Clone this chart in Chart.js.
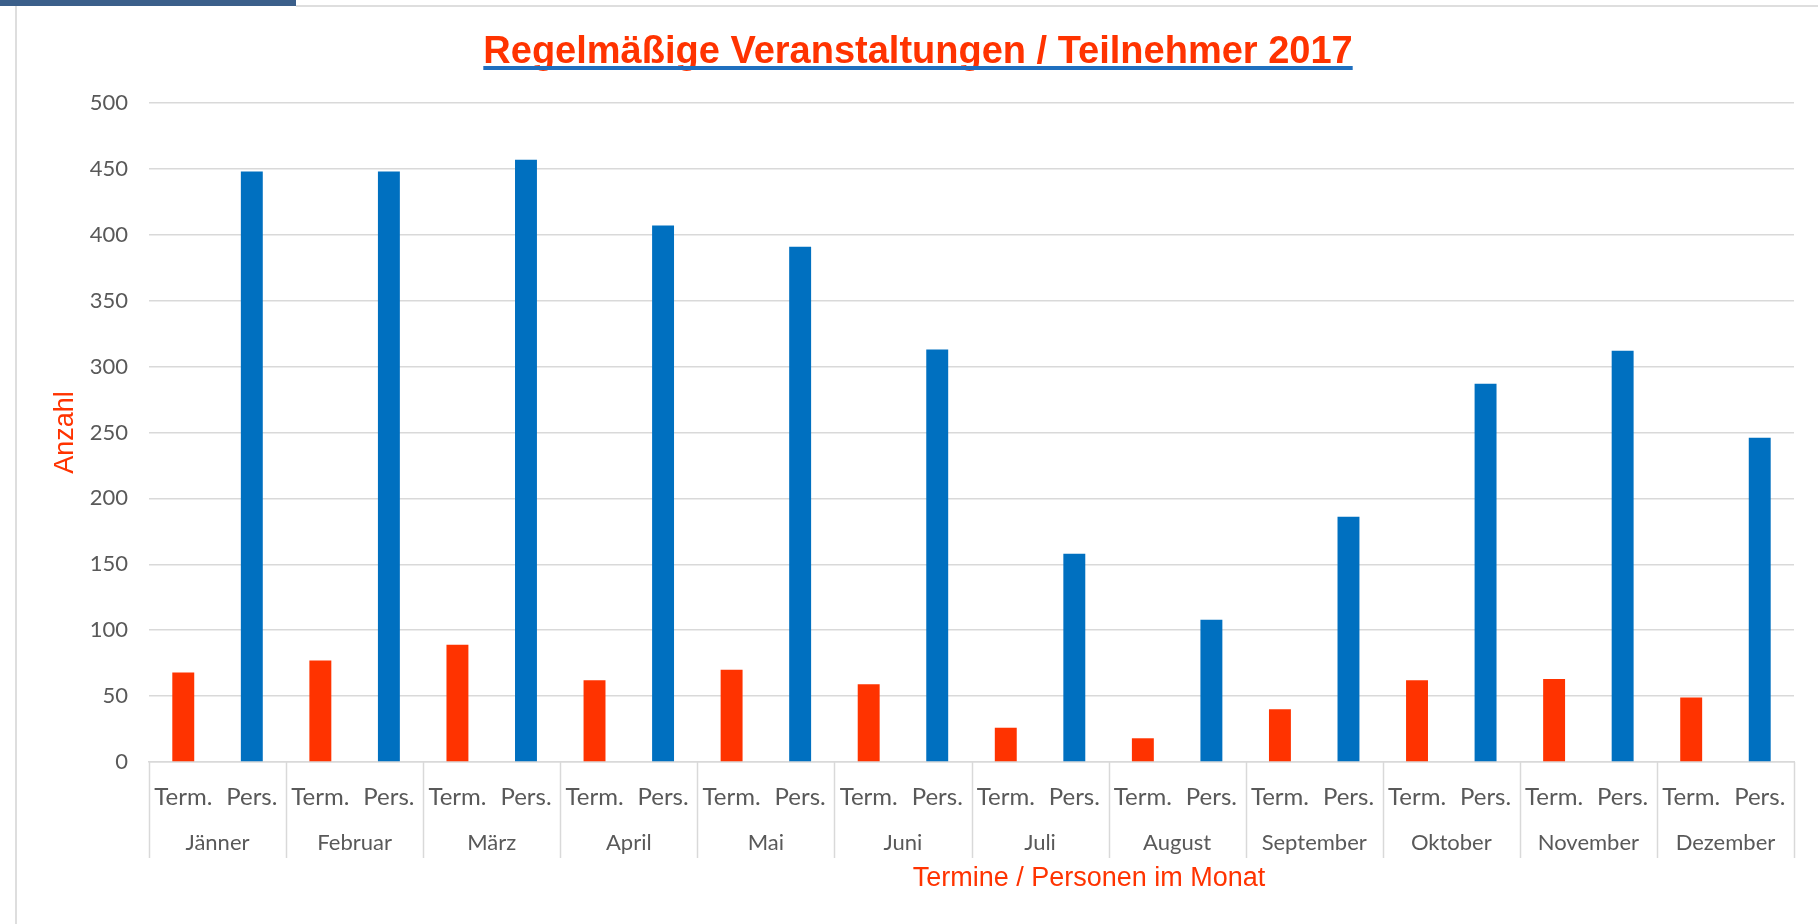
<!DOCTYPE html>
<html>
<head>
<meta charset="utf-8">
<title>Regelmäßige Veranstaltungen / Teilnehmer 2017</title>
<script src="https://cdn.jsdelivr.net/npm/chart.js@4.4.1/dist/chart.umd.min.js"></script>
<style>
  html, body { margin: 0; padding: 0; background: #fff; }
  canvas { display: block; }
</style>
</head>
<body>
<canvas id="chart" width="1818" height="924"></canvas>
<script>
// Daten
const months = ['Jänner', 'Februar', 'März', 'April', 'Mai', 'Juni', 'Juli', 'August', 'September', 'Oktober', 'November', 'Dezember'];
const subLabels = ['Term.', 'Pers.'];
const termine = [68, 77, 89, 62, 70, 59, 26, 18, 40, 62, 63, 49];
const personen = [448, 448, 457, 407, 391, 313, 158, 108, 186, 287, 312, 246];
const yMin = 0, yMax = 500, yStep = 50;

const chartTitle = 'Regelmäßige Veranstaltungen / Teilnehmer 2017';
const xTitle = 'Termine / Personen im Monat';
const yTitle = 'Anzahl';

const RED = '#ff3300';
const BLUE = '#0070c0';
const GRID = '#d9d9d9';
const TICK = '#595959';

// 24 Kategorien: je Monat "Term." und "Pers."
const labels = months.flatMap(() => subLabels);
const termData = [];
const persData = [];
months.forEach((m, i) => {
    termData.push(termine[i], null);
    persData.push(null, personen[i]);
});

// Rahmen, Titel, Trennlinien
const decoPlugin = {
    id: 'deco',
    beforeDraw(chart) {
        const ctx = chart.ctx;
        ctx.save();
        ctx.fillStyle = '#3b5f8a';
        ctx.fillRect(0, 0, 296, 6);
        ctx.strokeStyle = '#dedede';
        ctx.lineWidth = 2;
        ctx.beginPath();
        ctx.moveTo(296, 6); ctx.lineTo(1818, 6);
        ctx.moveTo(16, 6); ctx.lineTo(16, 924);
        ctx.stroke();
        ctx.restore();
    },
    afterDraw(chart) {
        const ctx = chart.ctx;
        const xs = chart.scales.x;
        ctx.save();
        // Monatstrenner
        const half = (xs.getPixelForValue(1) - xs.getPixelForValue(0)) / 2;
        ctx.strokeStyle = GRID;
        ctx.lineWidth = 1.5;
        ctx.beginPath();
        for (let i = 0; i <= months.length; i++) {
            const x = Math.round(xs.getPixelForValue(2 * i) - half) + 0.5;
            ctx.moveTo(x, xs.top);
            ctx.lineTo(x, 858);
        }
        ctx.stroke();

        // Titel mit Unterstrich
        ctx.font = 'bold 38px "Liberation Sans", Arial, sans-serif';
        ctx.fillStyle = RED;
        ctx.textAlign = 'center';
        ctx.textBaseline = 'alphabetic';
        const tx = 918;
        ctx.fillText(chartTitle, tx, 63);
        const w = ctx.measureText(chartTitle).width;
        ctx.strokeStyle = '#1f6fbf';
        ctx.lineWidth = 4;
        ctx.beginPath();
        ctx.moveTo(tx - w / 2, 68);
        ctx.lineTo(tx + w / 2, 68);
        ctx.stroke();

        // x-Achsentitel
        ctx.font = '27px "Liberation Sans", Arial, sans-serif';
        ctx.fillStyle = RED;
        ctx.fillText(xTitle, 1089, 886);
        ctx.restore();
    }
};

const ctx = document.getElementById('chart').getContext('2d');
new Chart(ctx, {
    type: 'bar',
    data: {
        labels: labels,
        datasets: [{
            label: 'Termine',
            data: termData,
            backgroundColor: RED,
            xAxisID: 'x',
            grouped: false,
            barPercentage: 0.32,
            categoryPercentage: 1
        }, {
            label: 'Personen',
            data: persData,
            backgroundColor: BLUE,
            xAxisID: 'x',
            grouped: false,
            barPercentage: 0.32,
            categoryPercentage: 1
        }]
    },
    options: {
        responsive: false,
        animation: false,
        layout: { padding: { top: 103, left: 0, right: 24, bottom: 0 } },
        plugins: {
            legend: { display: false },
            tooltip: { enabled: false },
            title: { display: false }
        },
        scales: {
            x: {
                type: 'category',
                position: 'bottom',
                weight: 1,
                offset: true,
                grid: { display: false },
                border: { display: true, color: GRID, width: 1.5 },
                ticks: {
                    color: TICK,
                    font: { family: 'Lato', size: 24 },
                    padding: 13,
                    maxRotation: 0,
                    autoSkip: false
                },
                afterFit(scale) { scale.height = 58; }
            },
            x2: {
                type: 'category',
                position: 'bottom',
                weight: 2,
                offset: true,
                labels: months,
                grid: { display: false },
                border: { display: false },
                ticks: {
                    color: TICK,
                    font: { family: 'Lato', size: 22 },
                    padding: 2,
                    maxRotation: 0,
                    autoSkip: false
                },
                afterFit(scale) { scale.height = 104; }
            },
            y: {
                min: yMin,
                max: yMax,
                grid: { color: GRID, lineWidth: 1.5, drawTicks: false },
                border: { display: false },
                ticks: {
                    stepSize: yStep,
                    color: TICK,
                    font: { family: 'Lato', size: 22 },
                    padding: 21
                },
                title: {
                    display: true,
                    text: yTitle,
                    color: RED,
                    font: { family: '"Liberation Sans", Arial, sans-serif', size: 27 },
                    padding: { top: 49, bottom: 0 }
                },
                afterFit(scale) { scale.width = 149; }
            }
        }
    },
    plugins: [decoPlugin]
});
</script>
</body>
</html>
